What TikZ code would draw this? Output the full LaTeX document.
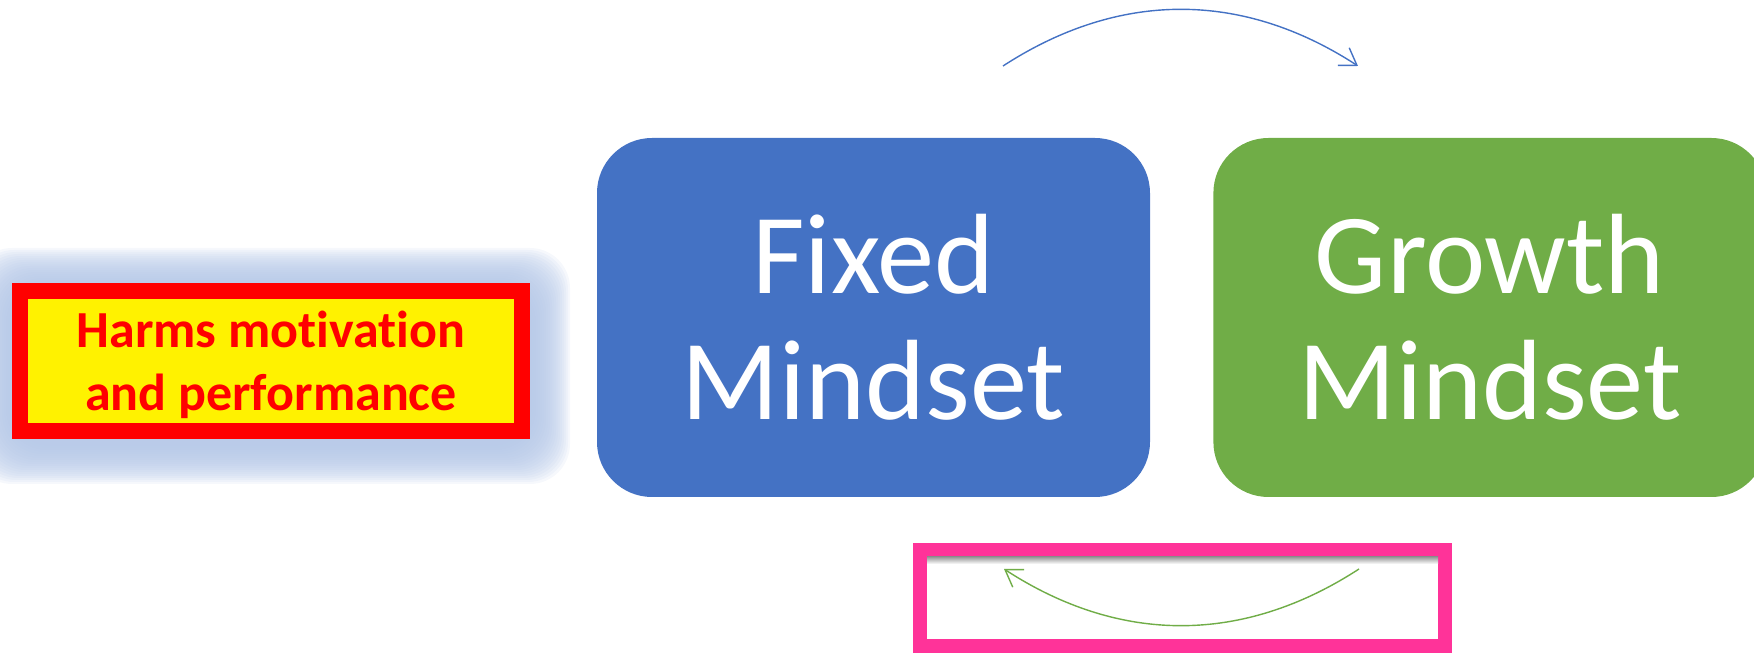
\documentclass[tikz,border=0pt]{standalone}
\usepackage{fontspec}
\setmainfont[Ligatures=NoCommon]{Carlito}
\usetikzlibrary{positioning,arrows.meta,backgrounds,calc,shadows}

\definecolor{fixedblue}{HTML}{4472C4}
\definecolor{growthgreen}{HTML}{70AD47}
\definecolor{glowblue}{HTML}{B4C7E7}
\definecolor{framepink}{HTML}{FF3399}

\begin{document}
\begin{tikzpicture}[
    bloco/.style={rounded corners=5.5mm, align=center, text=white, inner sep=0pt,
                  font=\fontsize{32.5}{36}\selectfont,
                  minimum width=55.3mm, minimum height=35.9mm},
    alerta/.style={draw=red, fill=yellow, line width=1.6mm, align=center, text=red,
                   inner sep=0pt, font=\bfseries\fontsize{14.8}{18}\selectfont,
                   minimum width=50.2mm, minimum height=14mm},
    moldura/.style={draw=framepink, fill=white, line width=1.4mm,
                    minimum width=52.5mm, minimum height=9.6mm,
                    drop shadow={shadow xshift=0.4mm, shadow yshift=-0.4mm, opacity=0.3}},
    ciclo/.style={-{Straight Barb[length=1.6mm, width=2.1mm]}, line width=0.4pt},
    node distance=6.2mm]
  \useasboundingbox (0,0) rectangle (17.54,6.55);

  \node[bloco, fill=fixedblue] (fixed) at (8.735,3.375) {Fixed\\Mindset};
  \node[bloco, fill=growthgreen, right=of fixed] (growth) {Growth\\Mindset};
  \node[alerta] (harms) at (2.71,2.94) {\strut Harms motivation\\and performance};
  \node[moldura] (frame) at (11.825,0.57) {};

  % soft glow round the warning
  \begin{scope}[on background layer]
    \foreach \g in {1,...,20}
      \fill[glowblue, opacity=0.12, rounded corners=4mm]
        ($(harms.south west)+(-\g*0.2mm,-\g*0.2mm-0.5mm)$) rectangle
        ($(harms.north east)+(\g*0.2mm,\g*0.2mm-0.5mm)$);
  \end{scope}

  % inner shadow of the frame
  \shade[top color=black!40, bottom color=white]
    ($(frame.north west)+(1.4mm,-1.4mm)$) rectangle ($(frame.north east)+(-1.4mm,-2.1mm)$);

  \coordinate (fixedout) at (10.03,5.89);
  \coordinate (growthin) at (13.58,5.89);
  \coordinate (growthout) at (13.59,0.86);
  \coordinate (fixedin) at (10.04,0.86);
  \draw[ciclo, fixedblue] (fixedout) to[bend left=33] (growthin);
  \draw[ciclo, growthgreen] (growthout) to[bend left=33] (fixedin);
\end{tikzpicture}
\end{document}
